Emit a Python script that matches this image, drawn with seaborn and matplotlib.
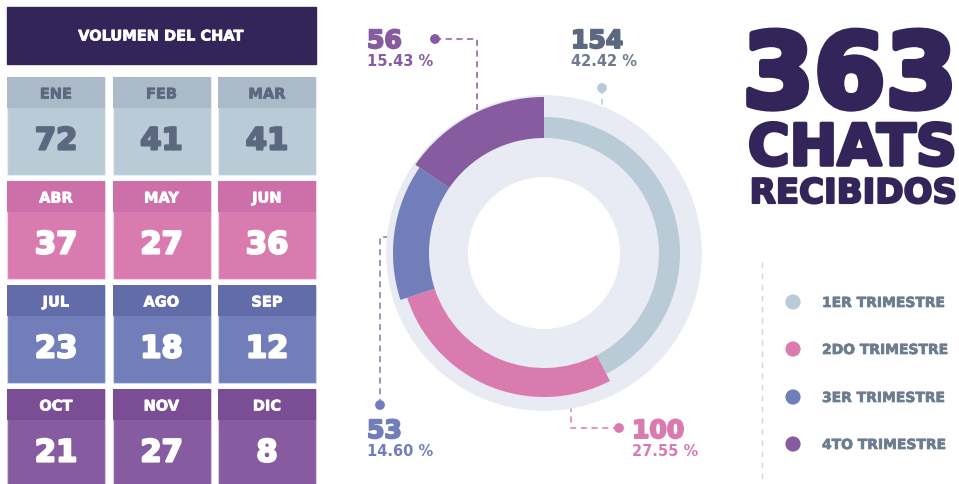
import numpy as np
import matplotlib
matplotlib.use("Agg")
import matplotlib.pyplot as plt
import matplotlib.patheffects as pe
from matplotlib.patches import Rectangle
import seaborn as sns

# data
months = ["ENE", "FEB", "MAR", "ABR", "MAY", "JUN",
          "JUL", "AGO", "SEP", "OCT", "NOV", "DIC"]
chats = [72, 41, 41, 37, 27, 36, 23, 18, 12, 21, 27, 8]
quarters = ["1ER TRIMESTRE", "2DO TRIMESTRE", "3ER TRIMESTRE", "4TO TRIMESTRE"]

# styles
navy = "#33245a"
head_colors = ["#aabac8", "#cd6fa8", "#616ca9", "#7a4d95"]
body_colors = ["#b9cbd6", "#da7bb0", "#717eba", "#875ba0"]
cell_text = ["#5c6880", "white", "white", "white"]
label_colors = ["#5c6880", "#da7bb0", "#717eba", "#875ba0"]
pct_colors = ["#6d7a90", "#da7bb0", "#717eba", "#875ba0"]
ring_bg = "#e8ebf3"
outer_r = [136, 144, 151, 156]

q_totals = [sum(chats[i * 3:(i + 1) * 3]) for i in range(4)]
total = sum(q_totals)
pcts = [v / total * 100 for v in q_totals]


def heavy(color, w=1.2):
    # thicken the bold glyphs a little
    return [pe.withStroke(linewidth=w, foreground=color)]


sns.set_theme(style="white")
plt.rcParams["font.family"] = ["DejaVu Sans"]

fig = plt.figure(figsize=(9.59, 4.84), dpi=100)
ax = fig.add_axes([0, 0, 1, 1])
ax.set_xlim(0, 959)
ax.set_ylim(484, 0)
ax.axis("off")

# ---- monthly grid ----
ax.add_patch(Rectangle((7, 7), 309, 57, color=navy))
ax.text(161.5, 36, "VOLUMEN DEL CHAT", color="white", fontsize=10.5,
        fontweight="bold", ha="center", va="center",
        path_effects=heavy("white", 0.5))

for i, (m, v) in enumerate(zip(months, chats)):
    q = i // 3
    x0 = 7 + (i % 3) * 105.5
    y0 = 77 + q * 104
    ax.add_patch(Rectangle((x0, y0), 98, 98, facecolor=body_colors[q],
                           edgecolor=(1, 1, 1, 0.35), lw=1))
    ax.add_patch(Rectangle((x0, y0), 98, 31, facecolor=head_colors[q], lw=0))
    ax.text(x0 + 49, y0 + 17, m, color=cell_text[q], fontsize=10.5,
            fontweight="bold", ha="center", va="center",
            path_effects=heavy(cell_text[q], 0.5))
    ax.text(x0 + 49, y0 + 64, str(v), color=cell_text[q], fontsize=22,
            fontweight="bold", ha="center", va="center",
            path_effects=heavy(cell_text[q], 1.6))

# ---- leader lines and labels ----
leaders = [
    [(602, 88), (602, 132)],
    [(619, 428), (571, 428), (571, 392)],
    [(380, 405), (380, 237), (396, 237)],
    [(435, 39), (477, 39), (477, 110)],
]
for q, pts in enumerate(leaders):
    xs, ys = zip(*pts)
    ax.plot(xs, ys, color=body_colors[q], lw=1.1, ls=(0, (4, 3)), zorder=1)
dots_x = [p[0][0] for p in leaders]
dots_y = [p[0][1] for p in leaders]
sns.scatterplot(x=dots_x, y=dots_y, hue=quarters, palette=body_colors,
                s=50, linewidth=0, legend=False, ax=ax, zorder=2)

label_pos = [(571, 48), (632, 438), (367, 438), (367, 48)]
for q, (lx, ly) in enumerate(label_pos):
    ax.text(lx, ly, str(q_totals[q]), color=label_colors[q], fontsize=18,
            fontweight="bold", ha="left", va="baseline",
            path_effects=heavy(label_colors[q], 1.4))
    ax.text(lx, ly + 18, f"{pcts[q]:.2f} %", color=pct_colors[q],
            fontsize=10.5, fontweight="bold", ha="left", va="baseline")

# ---- big total ----
big = [(str(total), 107, 74), ("CHATS", 165, 41), ("RECIBIDOS", 203, 24.5)]
for txt, by, fs in big:
    ax.text(957, by, txt, color=navy, fontsize=fs, fontweight="heavy",
            ha="right", va="baseline", path_effects=heavy(navy, fs / 16))

# ---- legend ----
ax.plot([762, 762], [262, 482], color="#c9d8e4", lw=1, ls=(0, (4, 4)))
leg_y = [302, 349, 397, 444]
sns.scatterplot(x=[793] * 4, y=leg_y, hue=quarters, palette=body_colors,
                s=120, linewidth=0, legend=False, ax=ax)
for q, ly in enumerate(leg_y):
    ax.text(822, ly + 1, quarters[q], color="#6c7d8f", fontsize=10,
            fontweight="bold", ha="left", va="center",
            path_effects=heavy("#6c7d8f", 0.5))

# ---- donut ----
cx, cy, R = 544, 253, 158
pax = fig.add_axes([(cx - R) / 959, (484 - cy - R) / 484, 2 * R / 959, 2 * R / 484],
                   projection="polar")
pax.set_theta_zero_location("N")
pax.set_theta_direction(-1)
pax.set_ylim(0, R)
pax.axis("off")
pax.bar(0, 82, width=2 * np.pi, bottom=76, color=ring_bg, align="edge", lw=0)
starts = np.concatenate([[0], np.cumsum(q_totals)[:-1]]) / total * 2 * np.pi
widths = np.array(q_totals) / total * 2 * np.pi
pax.bar(starts, np.array(outer_r) - 115, width=widths, bottom=115,
        color=body_colors, align="edge", lw=0)

fig.savefig("out.png", dpi=100)
